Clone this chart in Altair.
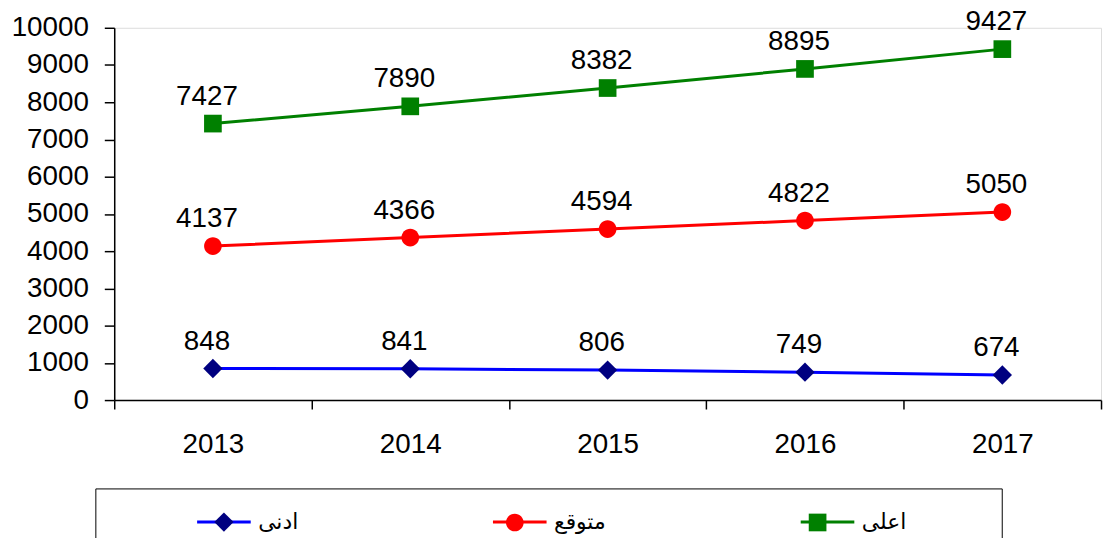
import altair as alt
import pandas as pd

years = ["2013", "2014", "2015", "2016", "2017"]
series_names = ["ادنى", "متوقع", "اعلى"]
low = [848, 841, 806, 749, 674]
expected = [4137, 4366, 4594, 4822, 5050]
high = [7427, 7890, 8382, 8895, 9427]
y_ticks = [0, 1000, 2000, 3000, 4000, 5000, 6000, 7000, 8000, 9000, 10000]

line_colors = ["#0000FF", "#FF0000", "#008000"]
marker_colors = ["#000080", "#FF0000", "#008000"]
marker_paths = [
    "M-0.36,0L0,-0.36L0.36,0L0,0.36Z",
    "M-0.33,0A0.33,0.33,0,1,0,0.33,0A0.33,0.33,0,1,0,-0.33,0Z",
    "M-0.33,-0.33H0.33V0.33H-0.33Z",
]

rows = []
for name, vals in zip(series_names, [low, expected, high]):
    for yr, v in zip(years, vals):
        rows.append({"year": yr, "value": v, "series": name, "series_m": name})
df = pd.DataFrame(rows)

SYM = 2916
LX, LY = -19, 464
NUM_FONT = "Liberation Sans"
AR_FONT = "DejaVu Sans"
pad_label = ("datum.label == '" + series_names[-1] + "' ? datum.label + '"
             + "\u00a0" * 13 + "\u200b' : datum.label")

common_legend = dict(
    orient="none", legendX=LX, legendY=LY, direction="horizontal",
    title=" ", titleOrient="left", titleFontSize=1, titlePadding=96,
    symbolSize=SYM, symbolStrokeWidth=3,
    labelFont=AR_FONT, labelFontSize=22, labelOffset=6, labelLimit=500,
    columnPadding=189, padding=5, labelExpr=pad_label,
)

leg_lines = alt.Legend(symbolType="stroke", labelColor="black",
                       strokeColor="black", **common_legend)
leg_marks = alt.Legend(labelOpacity=0, symbolStrokeColor="transparent",
                       **common_legend)

x_enc = alt.X(
    "year:O",
    scale=alt.Scale(type="band", paddingInner=0, paddingOuter=0),
    axis=alt.Axis(title=None, labelAngle=0, tickBand="extent", tickSize=9,
                  labelPadding=22, labelFontSize=28, labelFont=NUM_FONT,
                  labelColor="black", domainColor="black", tickColor="black",
                  domainWidth=1.5, tickWidth=1.5, grid=False),
)
y_enc = alt.Y(
    "value:Q",
    scale=alt.Scale(domain=[0, 10000], nice=False),
    axis=alt.Axis(title=None, values=y_ticks, format="d", tickSize=10,
                  labelPadding=16, labelFontSize=28, labelFont=NUM_FONT,
                  labelColor="black", domainColor="black", tickColor="black",
                  domainWidth=1.5, tickWidth=1.5, grid=False),
)

base = alt.Chart(df)

lines = base.mark_line(strokeWidth=3).encode(
    x=x_enc, y=y_enc,
    stroke=alt.Stroke("series:N", sort=series_names,
                      scale=alt.Scale(range=line_colors), legend=leg_lines),
)

points = base.mark_point(filled=True, size=SYM, opacity=1, strokeWidth=0).encode(
    x=x_enc, y=y_enc,
    color=alt.Color("series_m:N",
                    scale=alt.Scale(domain=series_names, range=marker_colors),
                    legend=leg_marks),
    shape=alt.Shape("series_m:N",
                    scale=alt.Scale(domain=series_names, range=marker_paths),
                    legend=leg_marks),
)

labels = base.mark_text(font=NUM_FONT, fontSize=28, color="black",
                        baseline="alphabetic", dy=-19, dx=-6).encode(
    x=x_enc, y=y_enc, text=alt.Text("value:Q", format="d"),
)

chart = alt.layer(lines, points, labels).properties(
    width=994, height=375,
    autosize=alt.AutoSizeParams(type="none"),
    padding={"left": 107, "top": 18, "right": 3, "bottom": 137},
).configure_view(stroke="transparent").configure(background="white")

chart.save("out.html", embed_options={"renderer": "svg", "actions": False})
